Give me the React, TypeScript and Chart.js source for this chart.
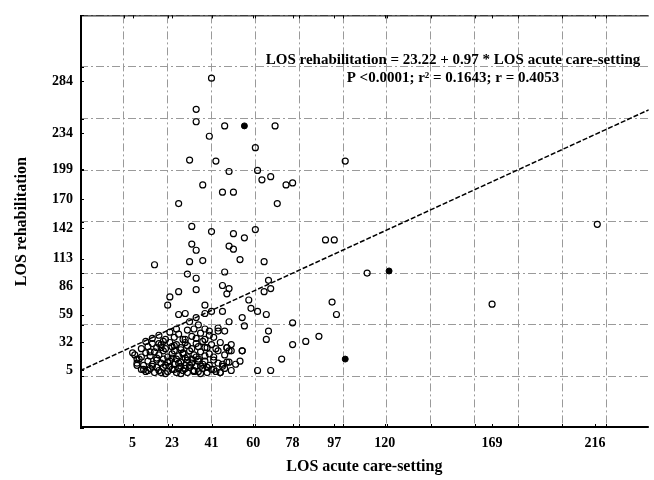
import React, { useEffect, useRef } from "react";
import { Chart, registerables } from "chart.js";

Chart.register(...registerables);

// Tick labels printed on the axes
const X_TICK_LABELS = [5, 23, 41, 60, 78, 97, 120, 169, 216];
const Y_TICK_LABELS = [5, 32, 59, 86, 113, 142, 170, 199, 234, 284];

// Open-circle observations (LOS acute care-setting, LOS rehabilitation)
const OPEN_X = [
  41, 34, 34, 47, 70, 40, 61, 31, 43, 102, 62, 64, 68, 75, 78, 37, 46, 51, 26, 71,
  32, 41, 61, 51, 56, 93, 97, 32, 34, 49, 51, 15, 31, 37, 54, 65, 30, 34, 47, 67,
  49, 112, 96, 98, 169, 217,
  66, 78, 84, 90, 78, 73, 62, 68, 67, 66, 55, 56, 49, 48, 50, 55, 46, 49, 45, 59,
  62, 58, 65, 68, 46, 49, 48, 22, 26, 34, 21, 26, 29, 34, 38, 41, 46, 38, 31, 35,
  38, 40, 44, 47, 5, 7, 7, 10,
  9, 11, 13, 15, 17, 19, 21, 23, 25, 26, 28, 30, 31, 33, 35, 37, 39, 41, 43, 45,
  47, 50, 14, 20, 27, 36,
  7, 10, 12, 14, 16, 18, 20, 22, 24, 25, 27, 29, 30, 32, 34, 35, 37, 38, 40, 42,
  44, 46, 48, 52, 54, 8, 19, 31,
  6, 9, 11, 13, 15, 17, 19, 21, 23, 24, 26, 28, 29, 31, 33, 34, 36, 38, 40, 42,
  44, 47, 49, 55, 16, 27,
  9, 12, 14, 16, 18, 20, 22, 23, 25, 27, 29, 30, 32, 34, 35, 37, 39, 41, 43, 45,
  48, 50, 11, 19,
  14, 17, 20, 22, 24, 26, 28, 30, 32, 34, 36, 38, 40, 42, 44, 25, 33,
  12, 16, 18, 22, 24, 27, 29, 33, 36, 39, 42, 21, 26, 30, 35, 13, 18, 23, 28, 32,
  38, 17, 24, 29,
];
const OPEN_Y = [
  287, 257, 245, 241, 241, 231, 220, 208, 207, 207, 198, 189, 192, 184, 186, 184, 177, 177, 166, 166,
  144, 139, 141, 137, 133, 131, 131, 127, 121, 125, 122, 107, 110, 111, 112, 110, 98, 94, 100, 92,
  197, 99, 71, 59, 69, 146,
  59, 51, 33, 38, 30, 16, 5, 5, 43, 35, 56, 48, 52, 27, 24, 24, 11, 13, 3, 65,
  62, 73, 81, 84, 87, 84, 79, 76, 81, 83, 68, 59, 60, 56, 60, 62, 62, 68, 52, 49,
  45, 43, 46, 43, 22, 16, 10, 6,
  6, 4, 7, 3, 5, 8, 4, 6, 3, 7, 5, 3, 8, 5, 4, 7, 3, 6, 4, 3,
  7, 5, 9, 2, 2, 2,
  12, 10, 14, 11, 15, 12, 10, 14, 11, 16, 13, 10, 15, 12, 9, 16, 11, 14, 10, 15,
  12, 9, 13, 11, 14, 16, 16, 10,
  20, 18, 22, 19, 23, 20, 24, 18, 21, 24, 19, 22, 17, 24, 20, 18, 23, 19, 21, 18,
  24, 20, 24, 24, 17, 25,
  26, 28, 31, 27, 30, 26, 32, 28, 30, 27, 32, 29, 26, 31, 28, 33, 27, 30, 26, 32,
  27, 30, 33, 33,
  36, 39, 35, 42, 37, 40, 35, 44, 38, 36, 41, 35, 39, 37, 43, 45, 45,
  5, 8, 3, 9, 6, 9, 7, 4, 9, 8, 6, 13, 12, 18, 14, 23, 27, 17, 21, 16,
  27, 31, 29, 35,
];

// Filled (solid) observations
const FILLED_X = [56, 122, 102];
const FILLED_Y = [241, 101, 16];

// Regression reported on the chart
const INTERCEPT = 23.22;
const SLOPE = 0.97;

const X_MIN = -19;
const X_MAX = 240.5;
const X_GRID_STEP = 20;
const Y_MIN = -50.5;
const Y_MAX = 347.6;
const Y_GRID_STEP = 49.76;

const LINE1 = "LOS rehabilitation = 23.22 + 0.97 * LOS acute care-setting";
const LINE2 = "P <0.0001; r\u00B2 = 0.1643; r = 0.4053";

const FONT_FAMILY = '"Liberation Serif", "Times New Roman", serif';
const GRID_COLOR = "#9a9a9a";

export default function App() {
  const canvasRef = useRef<HTMLCanvasElement | null>(null);

  useEffect(() => {
    const canvas = canvasRef.current;
    if (!canvas) return;

    const xGrid: number[] = [];
    for (let v = X_MIN; v <= X_MAX + 1e-6; v += X_GRID_STEP) xGrid.push(v);
    const yGrid: number[] = [];
    for (let v = Y_MIN; v <= Y_MAX + 1e-6; v += Y_GRID_STEP) yGrid.push(v);

    const isIn = (arr: number[], v: number) => arr.some((g) => Math.abs(g - v) < 1e-6);
    const buildTicks = (grid: number[], labels: number[]) => {
      const vals = [...grid];
      labels.forEach((l) => {
        if (!isIn(vals, l)) vals.push(l);
      });
      vals.sort((a, b) => a - b);
      return vals.map((v) => ({ value: v }));
    };

    const tickFont = { family: FONT_FAMILY, size: 14, weight: "bold" as const };
    const titleFont = { family: FONT_FAMILY, size: 16, weight: "bold" as const };

    const framePlugin = {
      id: "frameAndNote",
      beforeDatasetsDraw(chart: any) {
        const { ctx, chartArea: a, scales } = chart;
        ctx.save();
        ctx.strokeStyle = "#000";
        // inward tick marks
        ctx.lineWidth = 1;
        ctx.beginPath();
        buildTicks(xGrid, X_TICK_LABELS).forEach((t) => {
          const px = Math.round(scales.x.getPixelForValue(t.value)) + 0.5;
          ctx.moveTo(px, a.bottom);
          ctx.lineTo(px, a.bottom - 4);
          ctx.moveTo(px, a.top);
          ctx.lineTo(px, a.top + 3);
        });
        buildTicks(yGrid, Y_TICK_LABELS).forEach((t) => {
          const py = Math.round(scales.y.getPixelForValue(t.value)) + 0.5;
          ctx.moveTo(a.left, py);
          ctx.lineTo(a.left + 4, py);
        });
        ctx.stroke();
        // frame
        ctx.lineWidth = 1;
        ctx.beginPath();
        ctx.moveTo(a.left, a.top + 0.5);
        ctx.lineTo(a.right, a.top + 0.5);
        ctx.stroke();
        ctx.lineWidth = 2;
        ctx.beginPath();
        ctx.moveTo(a.left + 1, a.top);
        ctx.lineTo(a.left + 1, a.bottom - 1);
        ctx.lineTo(a.right, a.bottom - 1);
        ctx.stroke();
        ctx.restore();
      },
      afterDraw(chart: any) {
        const { ctx, chartArea: a } = chart;
        ctx.save();
        ctx.fillStyle = "#000";
        ctx.textAlign = "center";
        ctx.textBaseline = "middle";
        ctx.font = `bold 15px ${FONT_FAMILY}`;
        const cx = a.left + 373;
        ctx.fillText(LINE1, cx, a.top + 45);
        ctx.fillText(LINE2, cx, a.top + 63);
        ctx.restore();
      },
    };

    const chart = new Chart(canvas, {
      type: "scatter",
      data: {
        datasets: [
          {
            type: "line",
            label: "regression",
            data: [
              { x: X_MIN, y: INTERCEPT + SLOPE * X_MIN },
              { x: X_MAX, y: INTERCEPT + SLOPE * X_MAX },
            ],
            borderColor: "#000",
            borderWidth: 1.5,
            borderDash: [5, 2],
            pointRadius: 0,
            fill: false,
            order: 2,
          } as any,
          {
            label: "open",
            data: OPEN_X.map((x, i) => ({ x, y: OPEN_Y[i] })),
            pointRadius: 3,
            pointBorderWidth: 1.2,
            pointBorderColor: "#000",
            pointBackgroundColor: "rgba(255,255,255,0)",
            order: 1,
          },
          {
            label: "filled",
            data: FILLED_X.map((x, i) => ({ x, y: FILLED_Y[i] })),
            pointRadius: 3,
            pointBorderWidth: 1,
            pointBorderColor: "#000",
            pointBackgroundColor: "#000",
            order: 0,
          },
        ],
      },
      options: {
        responsive: false,
        animation: false,
        events: [],
        layout: { padding: { top: 10, right: 0, bottom: 0, left: 0 } },
        plugins: {
          legend: { display: false },
          tooltip: { enabled: false },
        },
        scales: {
          x: {
            type: "linear",
            min: X_MIN,
            max: X_MAX,
            afterBuildTicks: (s: any) => {
              s.ticks = buildTicks(xGrid, X_TICK_LABELS);
            },
            afterFit: (s: any) => {
              s.height = 52;
            },
            grid: {
              drawTicks: false,
              lineWidth: 1,
              color: (c: any) =>
                c.tick && isIn(xGrid, c.tick.value) && c.tick.value > X_MIN ? GRID_COLOR : "rgba(0,0,0,0)",
            },
            border: { display: false, dash: [8, 3, 2, 3] },
            ticks: {
              autoSkip: false,
              maxRotation: 0,
              padding: 7,
              color: "#000",
              font: tickFont,
              callback: (v: any) => (X_TICK_LABELS.includes(v) ? String(v) : ""),
            },
            title: {
              display: true,
              text: "LOS acute care-setting",
              color: "#000",
              font: titleFont,
              padding: { top: 0, bottom: 4 },
            },
          },
          y: {
            type: "linear",
            min: Y_MIN,
            max: Y_MAX,
            afterBuildTicks: (s: any) => {
              s.ticks = buildTicks(yGrid, Y_TICK_LABELS);
            },
            afterFit: (s: any) => {
              s.width = 80;
            },
            grid: {
              drawTicks: false,
              lineWidth: 1,
              color: (c: any) =>
                c.tick && isIn(yGrid, c.tick.value) && c.tick.value > Y_MIN + 1e-6 && c.tick.value < Y_MAX - 1e-6
                  ? GRID_COLOR
                  : "rgba(0,0,0,0)",
            },
            border: { display: false, dash: [8, 3, 2, 3] },
            ticks: {
              autoSkip: false,
              padding: 7,
              color: "#000",
              font: tickFont,
              callback: (v: any) => (Y_TICK_LABELS.includes(v) ? String(v) : ""),
            },
            title: {
              display: true,
              text: "LOS rehabilitation",
              color: "#000",
              font: titleFont,
              padding: { top: 12, bottom: 0 },
            },
          },
        },
      },
      plugins: [framePlugin],
    } as any);

    return () => chart.destroy();
  }, []);

  return (
    <div style={{ position: "fixed", left: 0, top: 0, width: 654, height: 480, background: "#fff" }}>
      <canvas ref={canvasRef} width={654} height={480} style={{ display: "block", width: 654, height: 480 }} />
    </div>
  );
}
